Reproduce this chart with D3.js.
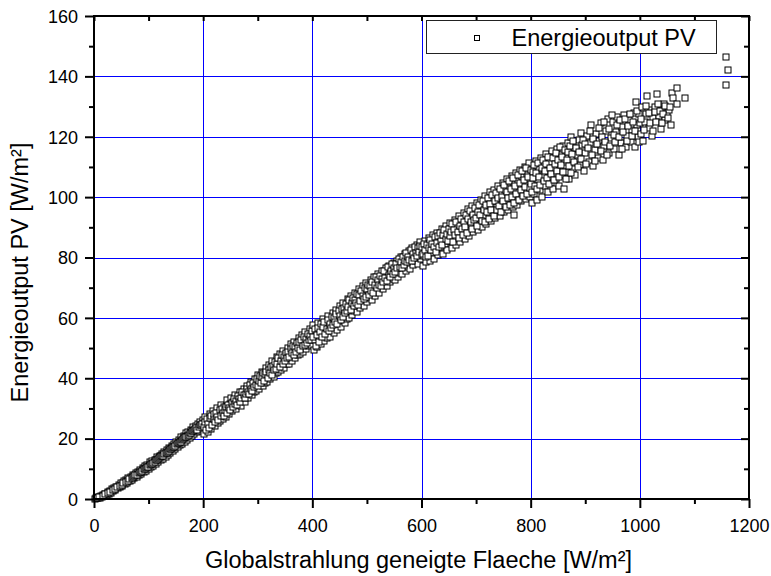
<!DOCTYPE html>
<html>
<head>
<meta charset="utf-8">
<script src="https://cdn.jsdelivr.net/npm/d3@7"></script>
<style>
  html, body { margin: 0; padding: 0; background: #fff; }
  svg { display: block; font-family: "Liberation Sans", Arial, sans-serif; }
</style>
</head>
<body>
<script>
// ---- Data (irradiance W/m², PV output W/m²) ----
const segA = [[2,0.1],[5,0.4],[7,0.2],[9,0.7],[11,0.4],[13,1.0],[15,0.7],[17,1.4],[19,0.9],[21,1.8],[23,1.2],[25,2.3],[27,1.6],[29,2.7],[31,2.0],[33,3.2],[35,2.5],[37,3.7],[39,2.9],[41,4.1],[44,3.5],[46,4.7],[48,4.1],[50,5.3],[52,4.3],[55,5.9],[57,4.9],[59,6.4],[60,6.0],[61,5.4],[63,6.9],[66,6.0],[68,7.4],[70,6.4],[72,8.0],[74,7.0],[77,8.6],[79,7.3],[80,8.4],[81,9.1],[83,8.0],[85,9.6],[87,8.3],[89,10.2],[90,9.6],[92,9.0],[94,10.8],[96,9.4],[98,11.4],[100,9.8],[100,11.0],[103,12.1],[105,10.6],[107,12.5],[109,11.0],[110,12.0],[111,13.0],[114,11.7],[116,13.8],[118,12.2],[120,14.3],[120,13.3],[122,12.8],[125,15.0],[127,13.4],[129,15.6],[130,14.8],[131,14.0],[134,16.3],[136,14.6],[138,17.0],[140,15.1],[140,16.2],[142,17.5],[145,15.9],[147,18.3],[149,16.5],[150,17.7],[151,18.9],[153,17.1],[156,19.6],[158,17.8],[160,20.4],[160,19.2],[162,18.3],[164,20.9],[167,19.0],[169,21.7],[170,20.8],[171,19.6],[173,22.3],[175,20.2],[178,23.0],[180,20.8],[180,22.0],[182,23.8],[184,21.4],[186,24.3],[189,22.1],[190,23.5],[191,25.0],[193,22.6],[195,25.6],[197,23.3],[199,26.3],[200,24.8]];
const segA2 = [[4,0.3],[10,0.5],[16,1.0],[20,1.5],[26,1.9],[30,2.4],[34,2.9],[38,3.3],[43,3.9],[47,4.4],[51,4.8],[54,5.2],[58,5.6],[62,6.1],[65,6.5],[69,7.0],[71,7.3],[73,7.6],[76,7.9],[78,8.1],[82,8.6],[84,9.0],[86,8.9],[88,9.4],[91,10.0],[93,9.9],[95,10.2],[97,10.5],[99,10.6],[102,11.2],[104,11.6],[106,11.5],[108,12.0],[112,12.4],[113,12.8],[115,12.9],[117,13.1],[119,13.6],[121,13.8],[123,14.1],[124,14.4],[126,14.2],[128,14.8],[132,15.3],[133,15.1],[135,15.7],[137,15.9],[139,16.4],[141,16.6],[143,16.9],[144,17.1],[146,17.3],[148,17.6],[152,18.1],[154,18.4],[155,18.6],[157,18.9],[159,19.0],[161,19.6],[163,19.8],[165,20.1],[166,20.4],[168,20.5],[172,21.0],[174,21.3],[176,21.7],[177,22.0],[179,22.4],[181,22.6],[183,22.8],[185,23.1],[187,23.4],[188,23.0],[192,24.0],[194,24.4],[196,24.6],[198,25.0]];
const segB = [[202,21.6],[204,27.2],[206,24.0],[208,22.3],[210,26.0],[212,28.1],[214,23.3],[216,25.5],[218,29.0],[221,24.3],[223,27.3],[225,30.0],[227,25.1],[229,28.4],[231,25.8],[233,31.0],[235,28.0],[237,26.4],[239,30.6],[241,27.2],[243,32.7],[245,29.6],[247,28.0],[249,31.4],[251,33.5],[253,29.0],[255,32.0],[257,30.4],[259,34.6],[261,29.8],[263,33.2],[265,31.2],[267,35.6],[269,30.9],[271,34.3],[273,32.4],[275,36.6],[277,32.2],[279,35.2],[281,37.5],[283,33.4],[285,36.0],[287,38.6],[289,34.4],[291,37.1],[293,35.3],[295,39.8],[297,35.9],[299,38.2],[301,41.0],[303,36.6],[305,39.4],[307,42.2],[309,37.3],[311,40.6],[313,38.3],[315,43.3],[317,38.8],[319,41.7],[321,44.4],[323,39.6],[325,42.9],[327,45.6],[329,40.4],[331,44.0],[333,41.6],[335,47.0],[337,42.0],[339,45.2],[341,48.0],[343,42.6],[345,46.3],[347,49.0],[349,43.4],[351,47.3],[353,44.6],[355,50.0],[357,44.8],[359,48.3],[361,51.2],[363,45.7],[365,49.2],[367,52.0],[369,46.6],[371,50.4],[373,47.6],[375,53.2],[377,47.9],[379,51.4],[381,54.2],[383,48.8],[385,52.4],[387,55.3],[389,49.6],[391,53.4],[393,50.6],[395,56.3],[397,51.0],[399,54.5]];
const segB2 = [[201,24.0],[203,25.4],[205,23.0],[207,26.4],[209,24.8],[211,23.6],[213,26.8],[215,27.6],[217,24.6],[219,26.4],[220,28.2],[222,25.6],[224,28.6],[226,27.0],[228,26.2],[230,29.4],[232,27.6],[234,29.8],[236,28.6],[238,27.6],[240,29.6],[242,30.4],[244,28.4],[246,31.0],[248,30.2],[250,29.4],[252,31.8],[254,30.6],[256,33.0],[258,31.6],[260,32.6],[262,31.0],[264,34.0],[266,33.0],[268,32.2],[270,33.6],[272,35.4],[274,34.6],[276,33.6],[278,34.8],[280,36.4],[282,35.6],[284,34.8],[286,37.6],[288,36.6],[290,35.8],[292,38.4],[294,37.0],[296,37.8],[298,39.6],[300,37.4],[302,39.2],[304,40.6],[306,38.4],[308,40.4],[310,41.8],[312,39.0],[314,41.4],[316,42.2],[318,40.2],[320,42.8],[322,41.6],[324,43.8],[326,41.2],[328,44.0],[330,42.6],[332,45.4],[334,43.0],[336,44.6],[338,46.6],[340,43.8],[342,45.8],[344,47.6],[346,44.6],[348,47.2],[350,45.8],[352,48.4],[354,46.6],[356,48.8],[358,47.0],[360,49.8],[362,48.2],[364,50.6],[366,47.6],[368,50.2],[370,48.6],[372,51.6],[374,50.0],[376,52.0],[378,49.4],[380,52.6],[382,50.8],[384,53.6],[386,51.0],[388,53.0],[390,51.8],[392,54.8],[394,52.6],[396,54.0],[398,52.8],[400,55.6]];
const segC = [[401,57.5],[403,49.4],[405,52.6],[407,55.5],[409,50.4],[411,58.4],[413,53.6],[415,51.4],[417,56.6],[419,59.5],[421,52.3],[423,55.0],[425,57.8],[427,53.2],[429,60.6],[431,56.1],[433,53.6],[435,59.0],[437,61.6],[439,55.0],[441,57.5],[443,62.5],[445,55.9],[447,60.3],[449,58.4],[451,63.8],[453,57.0],[455,61.3],[457,64.8],[459,58.3],[461,62.4],[463,59.6],[465,66.4],[467,60.0],[469,64.0],[471,67.2],[473,60.9],[475,65.3],[477,62.4],[479,68.4],[481,62.0],[483,66.2],[485,69.7],[487,63.2],[489,67.4],[491,64.6],[493,70.6],[495,64.0],[497,68.3],[499,71.6],[501,65.2],[503,69.6],[505,66.6],[507,72.6],[509,66.0],[511,70.4],[513,73.4],[515,67.4],[517,71.6],[519,68.6],[521,74.5],[523,68.4],[525,72.8],[527,75.5],[529,69.6],[531,74.0],[533,71.0],[535,76.6],[537,70.5],[539,75.2],[541,77.3],[543,71.8],[545,76.0],[547,73.0],[549,78.3],[551,72.4],[553,77.1],[555,79.0],[557,73.6],[559,78.0],[561,75.0],[563,80.3],[565,74.4],[567,79.0],[569,81.0],[571,75.6],[573,79.8],[575,77.0],[577,82.0],[579,76.2],[581,80.8],[583,83.0],[585,77.4],[587,81.5],[589,79.0],[591,84.0],[593,77.8],[595,82.4],[597,85.0],[599,79.4]];
const segC2 = [[402,53.8],[404,56.2],[406,50.8],[408,54.2],[410,56.8],[412,52.0],[414,55.4],[416,58.0],[418,53.8],[420,57.0],[422,58.6],[424,54.6],[426,56.4],[428,59.4],[430,55.6],[432,58.0],[434,56.8],[436,60.4],[438,57.6],[440,59.8],[442,58.6],[444,61.4],[446,58.0],[448,62.4],[450,60.6],[452,59.4],[454,62.8],[456,60.4],[458,63.4],[460,61.6],[462,64.6],[464,62.2],[466,63.6],[468,65.8],[470,62.6],[472,65.0],[474,66.6],[476,63.8],[478,66.0],[480,64.8],[482,68.0],[484,64.2],[486,67.6],[488,65.6],[490,69.0],[492,67.2],[494,66.2],[496,69.8],[498,67.0],[500,69.4],[502,71.0],[504,67.6],[506,70.6],[508,69.0],[510,72.0],[512,68.4],[514,71.0],[516,73.6],[518,70.0],[520,72.6],[522,71.0],[524,74.0],[526,70.4],[528,73.0],[530,71.8],[532,75.6],[534,73.2],[536,72.2],[538,77.0],[540,74.2],[542,73.4],[544,75.4],[546,78.0],[548,74.6],[550,76.4],[552,75.2],[554,77.8],[556,76.4],[558,79.6],[560,77.0],[562,78.4],[564,76.6],[566,80.2],[568,77.6],[570,78.8],[572,81.6],[574,78.4],[576,80.2],[578,79.2],[580,82.6],[582,78.8],[584,81.2],[586,80.0],[588,83.4],[590,81.4],[592,80.4],[594,83.0],[596,81.8],[598,83.8],[600,80.8]];
const segD = [[601,83.4],[603,77.2],[605,80.6],[607,85.6],[609,78.4],[611,82.2],[613,86.4],[615,79.0],[617,84.0],[619,81.4],[621,87.4],[623,79.6],[625,85.0],[627,82.6],[629,88.2],[631,80.8],[633,86.0],[635,83.6],[637,89.4],[639,81.2],[641,86.8],[643,84.4],[645,90.6],[647,82.6],[649,88.0],[651,85.6],[653,91.4],[655,83.0],[657,89.2],[659,86.8],[661,92.4],[663,84.2],[665,90.0],[667,87.8],[669,93.6],[671,85.2],[673,91.0],[675,88.8],[677,94.6],[679,86.0],[681,92.2],[683,89.6],[685,96.0],[687,87.2],[689,93.2],[691,90.8],[693,97.0],[695,88.4],[697,94.6],[699,91.6],[701,98.0],[703,89.2],[705,95.8],[707,92.6],[709,99.2],[711,90.2],[713,96.6],[715,93.8],[717,100.4],[719,91.0],[721,97.8],[723,94.6],[725,101.6],[727,92.0],[729,98.8],[731,95.6],[733,102.4],[735,93.0],[737,100.0],[739,96.8],[741,103.6],[743,93.8],[745,101.0],[747,97.6],[749,104.8],[751,95.0],[753,102.2],[755,98.6],[757,106.0],[759,95.8],[761,103.0],[763,99.8],[765,107.0],[767,96.8],[769,104.4],[770,94.1],[771,100.6],[773,108.0],[775,97.4],[777,105.4],[779,101.8],[781,109.0],[783,98.6],[785,106.6],[787,102.8],[789,110.0],[791,99.4],[793,107.4],[795,104.0],[797,111.2],[799,100.2]];
const segD2 = [[602,81.0],[604,84.6],[606,82.6],[608,80.2],[610,84.0],[612,80.6],[614,83.2],[616,85.8],[618,82.6],[620,84.6],[622,83.6],[624,86.8],[626,81.8],[628,84.8],[630,87.0],[632,83.4],[634,88.0],[636,85.6],[638,84.0],[640,87.4],[642,89.0],[644,86.2],[646,87.8],[648,85.4],[650,89.6],[652,87.0],[654,88.6],[656,91.0],[658,85.0],[660,89.2],[662,87.6],[664,91.6],[666,88.4],[668,86.4],[670,90.6],[672,92.8],[674,89.6],[676,87.4],[678,91.6],[680,90.0],[682,94.2],[684,88.2],[686,92.6],[688,95.4],[690,91.6],[692,89.6],[694,94.0],[696,92.4],[698,96.4],[700,93.0],[702,90.6],[704,95.0],[706,97.4],[708,94.0],[710,92.2],[712,98.6],[714,95.6],[716,91.6],[718,97.4],[720,95.0],[722,99.6],[724,92.8],[726,97.6],[728,95.8],[730,100.6],[732,93.6],[734,98.6],[736,101.4],[738,95.6],[740,99.6],[742,97.0],[744,102.6],[746,95.2],[748,100.2],[750,98.6],[752,104.0],[754,96.6],[756,101.6],[758,99.8],[760,105.2],[762,97.4],[764,102.8],[766,100.2],[768,106.2],[770,98.0],[772,103.6],[774,101.2],[776,107.2],[778,99.0],[780,104.6],[782,102.4],[784,108.6],[786,100.4],[788,105.8],[790,103.4],[792,109.6],[794,101.2],[796,106.8],[798,103.0],[800,109.0]];
const segE = [[801,104.5],[803,98.0],[805,108.2],[807,101.0],[809,112.0],[811,99.2],[813,105.6],[815,109.4],[817,102.4],[819,113.0],[821,100.2],[823,107.0],[825,110.6],[827,103.6],[829,114.2],[831,101.6],[833,108.2],[835,111.6],[837,104.8],[839,115.2],[841,102.6],[843,109.2],[845,112.8],[847,106.0],[849,116.0],[851,103.8],[853,110.4],[855,114.0],[857,107.2],[859,117.0],[861,102.6],[863,111.6],[865,115.0],[867,108.4],[869,118.0],[871,106.0],[873,120.0],[875,112.6],[877,109.4],[879,116.2],[882,107.4],[885,113.8],[888,119.0],[891,110.8],[892,121.4],[894,117.2],[897,108.6],[900,114.6],[903,120.4],[906,111.6],[909,117.8],[911,123.8],[914,110.2],[917,115.6],[920,121.0],[923,113.0],[926,118.6],[929,124.4],[932,112.4],[935,116.8],[938,122.0],[941,126.0],[944,114.6],[947,119.6],[950,124.8],[953,116.0],[956,121.6],[959,126.6],[962,113.8],[965,118.0],[968,123.2],[971,127.2],[974,116.6],[977,120.4],[980,125.4],[983,118.4],[986,122.4],[989,128.0],[991,116.7],[994,124.0],[997,120.0],[999,127.4]];
const segE2 = [[802,101.8],[804,106.4],[806,110.6],[808,103.8],[810,108.0],[812,102.6],[814,111.4],[816,106.6],[818,104.0],[820,109.6],[822,112.4],[824,105.2],[826,108.6],[828,111.0],[830,106.2],[832,113.4],[834,104.4],[836,109.8],[838,107.6],[840,113.0],[842,105.8],[844,111.0],[846,114.6],[848,108.6],[850,112.2],[852,106.8],[854,116.6],[856,110.6],[858,113.4],[860,108.2],[862,115.6],[864,106.0],[866,112.4],[868,114.8],[870,110.4],[872,117.0],[874,108.0],[876,114.4],[878,118.6],[880,111.6],[883,116.4],[886,110.0],[889,115.0],[893,112.6],[896,118.8],[899,117.6],[902,111.0],[905,116.2],[908,121.8],[912,114.0],[915,119.4],[918,112.0],[921,117.6],[925,122.8],[928,115.4],[931,120.0],[934,125.0],[937,118.2],[940,114.0],[943,122.6],[946,117.0],[949,127.2],[952,120.6],[955,118.4],[958,124.0],[961,120.0],[964,125.6],[967,116.0],[970,121.6],[973,126.0],[976,118.6],[979,123.4],[982,127.6],[985,120.2],[988,125.0],[992,122.0],[995,128.6],[998,118.2],[1000,124.6]];
const segF = [[993,131.6],[1004,129.8],[1003,121.0],[1006,118.6],[1009,125.0],[1012,127.4],[1014,133.6],[1017,123.0],[1020,129.0],[1022,120.4],[1025,126.2],[1028,130.0],[1032,134.0],[1035,127.0],[1038,122.6],[1041,129.0],[1044,131.0],[1047,125.6],[1050,128.0],[1054,128.7],[1057,124.0],[1059,134.6],[1060,133.0],[1068,130.8],[1069,136.0],[1083,133.0],[1157,146.4],[1162,142.1],[1158,137.0]];
const segF2 = [[1002,126.0],[1008,122.4],[1011,130.2],[1016,127.8],[1019,124.6],[1024,122.0],[1027,128.2],[1030,125.0],[1034,131.0],[1037,128.6],[1040,124.6],[1043,127.4],[1046,130.2],[1052,126.2],[1056,130.0]];

const xMajorTicks = [0, 200, 400, 600, 800, 1000, 1200];
const xMinorTicks = [100, 300, 500, 700, 900, 1100];
const yMajorTicks = [0, 20, 40, 60, 80, 100, 120, 140, 160];
const yMinorTicks = [10, 30, 50, 70, 90, 110, 130, 150];
const xGrid = [200, 400, 600, 800, 1000];
const yGrid = [20, 40, 60, 80, 100, 120, 140];
const xTitle = "Globalstrahlung geneigte Flaeche [W/m²]";
const yTitle = "Energieoutput PV [W/m²]";
const seriesName = "Energieoutput PV";

const points = [...segA, ...segA2, ...segB, ...segB2, ...segC, ...segC2, ...segD, ...segD2, ...segE, ...segE2, ...segF, ...segF2];

const W = 771, H = 576;
const L = 94, R = 749, T = 16, B = 499;

const svg = d3.select("body").append("svg").attr("width", W).attr("height", H);
svg.append("rect").attr("width", W).attr("height", H).attr("fill", "#fff");

const x = d3.scaleLinear().domain([0, 1200]).range([L, R]);
const y = d3.scaleLinear().domain([0, 160]).range([B, T]);
const px = v => Math.round(v) + 0.5;

// grid
const grid = svg.append("g").attr("stroke", "#0000ff").attr("stroke-width", 1);
grid.selectAll("line.gx").data(xGrid).join("line").attr("class", "gx")
  .attr("x1", d => px(x(d))).attr("x2", d => px(x(d))).attr("y1", B).attr("y2", T);
grid.selectAll("line.gy").data(yGrid).join("line").attr("class", "gy")
  .attr("y1", d => px(y(d))).attr("y2", d => px(y(d))).attr("x1", L).attr("x2", R);

// points (pixel-snapped open squares)
svg.append("g").selectAll("rect").data(points).join("rect")
  .attr("x", d => px(x(d[0])) - 3.5).attr("y", d => px(y(d[1])) - 3.5)
  .attr("width", 6).attr("height", 6)
  .attr("fill", "#fff").attr("stroke", "#000").attr("stroke-width", 1);

function styleAxis(g) {
  g.select(".domain").remove();
  g.selectAll(".tick line").attr("stroke", "#000").attr("stroke-width", 2);
}
const FONT = '"Liberation Sans", Arial, sans-serif';

// bottom axis
const bMaj = svg.append("g").attr("transform", `translate(0,${B})`)
  .call(d3.axisBottom(x).tickValues(xMajorTicks).tickSize(9).tickFormat(d3.format("d")));
styleAxis(bMaj);
bMaj.selectAll(".tick text").attr("y", 0).attr("dy", 0).attr("transform", "translate(0,32.5)")
  .attr("font-size", 18).attr("fill", "#000").attr("font-family", FONT);
const bMin = svg.append("g").attr("transform", `translate(0,${B})`)
  .call(d3.axisBottom(x).tickValues(xMinorTicks).tickSize(5).tickFormat(""));
styleAxis(bMin);

// top axis (inward)
const tAx = svg.append("g").attr("transform", `translate(0,${T})`)
  .call(d3.axisTop(x).tickValues([...xMajorTicks, ...xMinorTicks]).tickSize(-5).tickFormat(""));
styleAxis(tAx);

// left axis
const lMaj = svg.append("g").attr("transform", `translate(${L},0)`)
  .call(d3.axisLeft(y).tickValues(yMajorTicks).tickSize(9).tickFormat(d3.format("d")));
styleAxis(lMaj);
lMaj.selectAll(".tick text").attr("x", -16).attr("dy", "0.35em")
  .attr("font-size", 18).attr("fill", "#000").attr("font-family", FONT);
const lMin = svg.append("g").attr("transform", `translate(${L},0)`)
  .call(d3.axisLeft(y).tickValues(yMinorTicks).tickSize(5).tickFormat(""));
styleAxis(lMin);

// right axis (inward)
const rMaj = svg.append("g").attr("transform", `translate(${R},0)`)
  .call(d3.axisRight(y).tickValues(yMajorTicks).tickSize(-8).tickFormat(""));
styleAxis(rMaj);
const rMin = svg.append("g").attr("transform", `translate(${R},0)`)
  .call(d3.axisRight(y).tickValues(yMinorTicks).tickSize(-5).tickFormat(""));
styleAxis(rMin);

// frame
svg.append("rect").attr("x", L).attr("y", T).attr("width", R - L).attr("height", B - T)
  .attr("fill", "none").attr("stroke", "#000").attr("stroke-width", 2);

// axis titles
svg.append("text").attr("x", 418.5).attr("y", 568).attr("text-anchor", "middle")
  .attr("font-size", 23.5).attr("fill", "#000").text(xTitle);
svg.append("text").attr("transform", "translate(27.5,272.5) rotate(-90)").attr("text-anchor", "middle")
  .attr("font-size", 23.5).attr("fill", "#000").text(yTitle);

// legend
const lg = svg.append("g");
lg.append("rect").attr("x", 426.5).attr("y", 20.5).attr("width", 290).attr("height", 33)
  .attr("fill", "#fff").attr("stroke", "#222").attr("stroke-width", 1);
lg.append("rect").attr("x", 474.5).attr("y", 35.5).attr("width", 5).attr("height", 5)
  .attr("fill", "#fff").attr("stroke", "#000").attr("stroke-width", 1);
lg.append("text").attr("x", 511.5).attr("y", 45.7).attr("font-size", 23.5).attr("fill", "#000").text(seriesName);
</script>
</body>
</html>
